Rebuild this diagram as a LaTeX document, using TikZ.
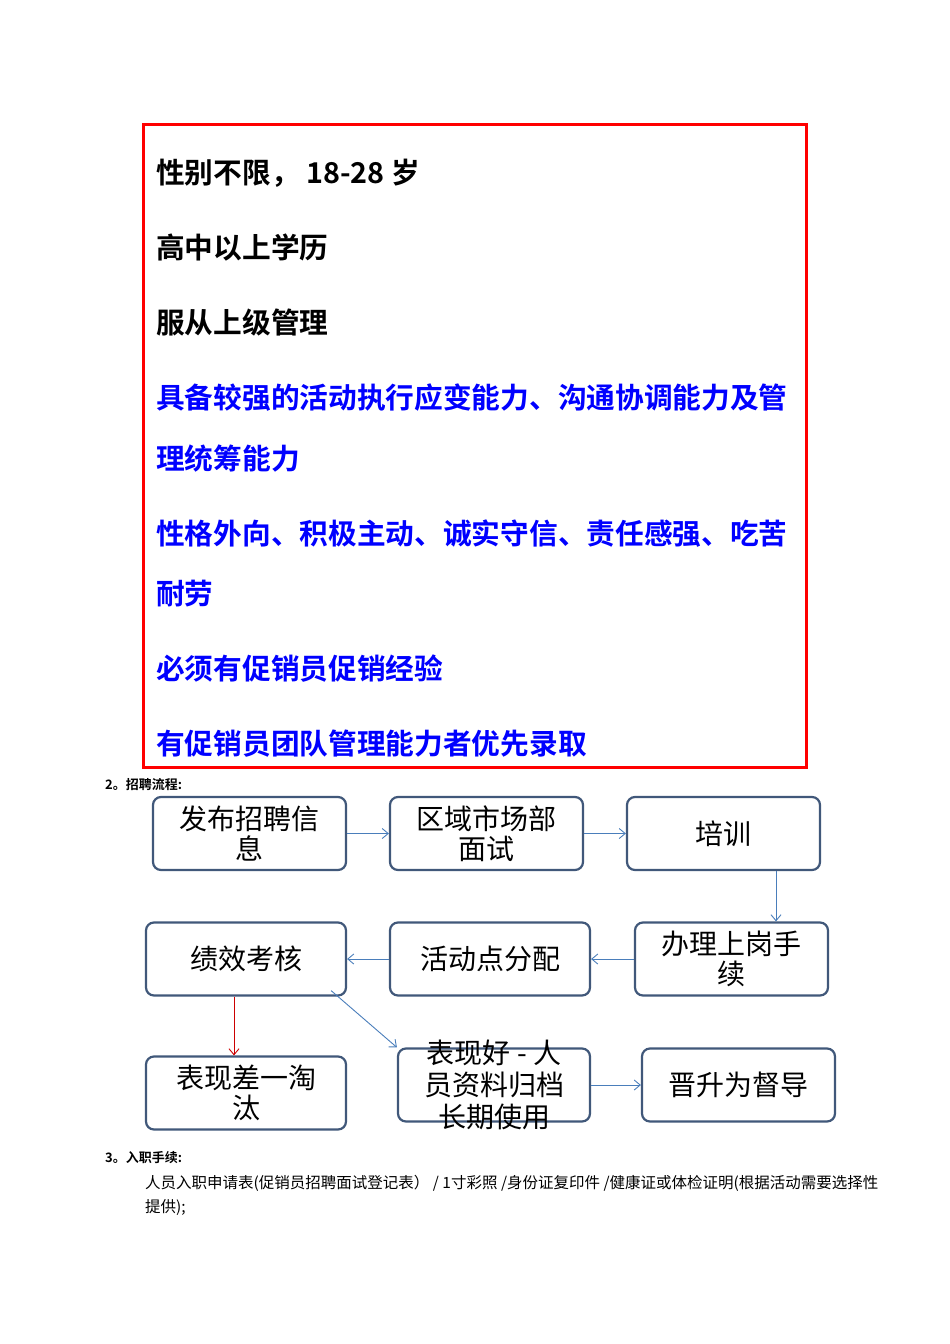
\documentclass[tikz,border=0pt]{standalone}
\usepackage{fontspec}
\setmainfont{Liberation Sans}
\newfontfamily\cjk{Noto Sans CJK SC}
\newfontfamily\cjkb{Noto Sans CJK SC}[BoldFont={* Bold}]
\usetikzlibrary{arrows.meta}
\definecolor{bbd}{HTML}{41587A}
\definecolor{arr}{HTML}{4A7EBB}
\definecolor{blu}{HTML}{0000FF}
\tikzset{
 fbox/.style={draw=bbd,line width=2.2pt,rounded corners=8pt,minimum width=193pt,minimum height=73pt,align=center,font=\cjk\fontsize{28}{33}\selectfont,inner sep=2pt},
 req/.style={anchor=west,font=\cjkb\bfseries\fontsize{28.7}{30}\selectfont,inner sep=0pt},
 conn/.style={draw=arr,line width=0.9pt,-{Straight Barb[length=6pt,width=10pt]}},
}
\begin{document}
\begin{tikzpicture}[x=1pt,y=-1pt]
\useasboundingbox[fill=white] (0,0) rectangle (950,1344);
\draw[red,line width=3pt] (143,124) rectangle (806,767);
\node[req] (r1) at (156,173) {性别不限， 18-28 岁};
\node[req] (r2) at (156,248) {高中以上学历};
\node[req] (r3) at (156,323) {服从上级管理};
\node[req,blu] (r4) at (156,398) {具备较强的活动执行应变能力、沟通协调能力及管};
\node[req,blu] (r5) at (156,459) {理统筹能力};
\node[req,blu] (r6) at (156,534) {性格外向、积极主动、诚实守信、责任感强、吃苦};
\node[req,blu] (r7) at (156,594) {耐劳};
\node[req,blu] (r8) at (156,669) {必须有促销员促销经验};
\node[req,blu] (r9) at (156,744) {有促销员团队管理能力者优先录取};
\node[anchor=west,font=\cjkb\bfseries\fontsize{13}{15}\selectfont,inner sep=0pt] (h2) at (105,785) {2。招聘流程:};
\node[fbox] (A) at (249.5,833.5) {发布招聘信\\[-3pt]息};
\node[fbox] (B) at (486.5,833.5) {区域市场部\\[-3pt]面试};
\node[fbox] (C) at (723.5,833.5) {培训};
\node[fbox] (D) at (731.5,959) {办理上岗手\\[-3pt]续};
\node[fbox,minimum width=200pt] (E) at (490,959) {活动点分配};
\node[fbox,minimum width=200pt] (F) at (246,959) {绩效考核};
\node[fbox,minimum width=200pt] (G) at (246,1093) {表现差一淘\\[-3pt]汰};
\node[fbox,minimum width=192pt] (H) at (494,1085) {};
\node[align=center,font=\cjk\fontsize{28}{33}\selectfont,inner sep=0pt] (Ht) at (H.center) {表现好 - 人\\[-1pt]员资料归档\\[-1pt]长期使用};
\node[fbox] (I) at (738.5,1085) {晋升为督导};
\draw[conn] (A) -- (B);
\draw[conn] (B) -- (C);
\draw[conn] (C.south -| 776,0) -- (D.north -| 776,0);
\draw[conn] (D) -- (E);
\draw[conn] (E) -- (F);
\draw[conn,draw=red!80!black] (F.south -| 234,0) -- (G.north -| 234,0);
\draw[conn] (F.south east) ++(-16,-6) coordinate (fs) (fs) -- (H.north west);
\draw[conn] (H) -- (I);
\node[anchor=west,font=\cjkb\bfseries\fontsize{13}{15}\selectfont,inner sep=0pt] (h3) at (105,1158) {3。入职手续:};
\node[anchor=west,font=\cjk\fontsize{15.5}{18}\selectfont,inner sep=0pt] (t1) at (145,1183) {人员入职申请表(促销员招聘面试登记表） /  1寸彩照  /身份证复印件  /健康证或体检证明(根据活动需要选择性};
\node[anchor=west,font=\cjk\fontsize{15.5}{18}\selectfont,inner sep=0pt] (t2) at (145,1208) {提供);};
\end{tikzpicture}
\end{document}
